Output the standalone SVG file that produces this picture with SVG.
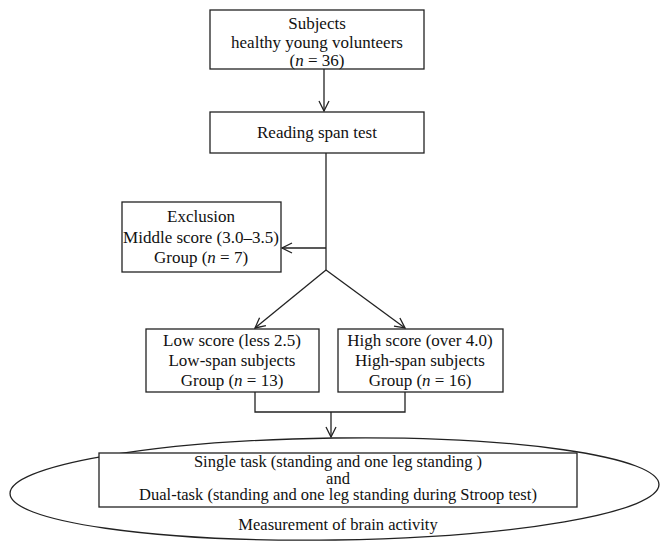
<svg xmlns="http://www.w3.org/2000/svg" width="670" height="551" viewBox="0 0 670 551">
<style>
.box{fill:#fff;stroke:#222;stroke-width:1.3}
.ln{fill:none;stroke:#222;stroke-width:1.3}
text{font-family:"Liberation Serif","Times New Roman",serif;font-size:17px;fill:#111;text-anchor:middle}
.sm{font-size:16.5px}
</style>
<defs>
<marker id="ah" viewBox="0 0 12 12" refX="11" refY="6" markerWidth="12" markerHeight="12" markerUnits="userSpaceOnUse" orient="auto">
<path d="M1,1 L11,6 L1,11" fill="none" stroke="#222" stroke-width="1.3"/>
</marker>
</defs>
<rect width="670" height="551" fill="#fff"/>
<g id="connectors">
<line class="ln" x1="324" y1="69" x2="324" y2="111" marker-end="url(#ah)"/>
<line class="ln" x1="326" y1="153" x2="326" y2="270"/>
<line class="ln" x1="326" y1="248" x2="282" y2="248" marker-end="url(#ah)"/>
<line class="ln" x1="326" y1="270" x2="255" y2="328" marker-end="url(#ah)"/>
<line class="ln" x1="326" y1="270" x2="405" y2="328" marker-end="url(#ah)"/>
<polyline class="ln" points="255,392 255,412 405,412 405,392"/>
<line class="ln" x1="331" y1="412" x2="331" y2="437" marker-end="url(#ah)"/>
</g>
<g id="subjects">
<rect class="box" x="210" y="10" width="214" height="59"/>
<text x="317" y="29">Subjects</text>
<text x="317" y="48">healthy young volunteers</text>
<text x="317" y="66">(<tspan font-style="italic">n</tspan> = 36)</text>
</g>
<g id="reading">
<rect class="box" x="210" y="112" width="214" height="41"/>
<text x="317" y="138">Reading span test</text>
</g>
<g id="exclusion">
<rect class="box" x="122" y="202" width="159" height="70"/>
<text x="201" y="222">Exclusion</text>
<text x="201" y="243">Middle score (3.0–3.5)</text>
<text x="201" y="263">Group (<tspan font-style="italic">n</tspan> = 7)</text>
</g>
<g id="low">
<rect class="box" x="146" y="329" width="173" height="63"/>
<text x="232" y="346">Low score (less 2.5)</text>
<text x="232" y="366">Low-span subjects</text>
<text x="232" y="386">Group (<tspan font-style="italic">n</tspan> = 13)</text>
</g>
<g id="high">
<rect class="box" x="338" y="329" width="165" height="63"/>
<text x="420" y="346">High score (over 4.0)</text>
<text x="420" y="366">High-span subjects</text>
<text x="420" y="386">Group (<tspan font-style="italic">n</tspan> = 16)</text>
</g>
<g id="measurement">
<ellipse class="ln" cx="334.5" cy="489" rx="324.5" ry="51" transform="rotate(-0.8 334.5 489)"/>
<rect class="box" x="99" y="453" width="478" height="54"/>
<text class="sm" x="338" y="467">Single task (standing and one leg standing )</text>
<text class="sm" x="338" y="483.5">and</text>
<text class="sm" x="338" y="500">Dual-task (standing and one leg standing during Stroop test)</text>
<text class="sm" x="338" y="530">Measurement of brain activity</text>
</g>
</svg>
